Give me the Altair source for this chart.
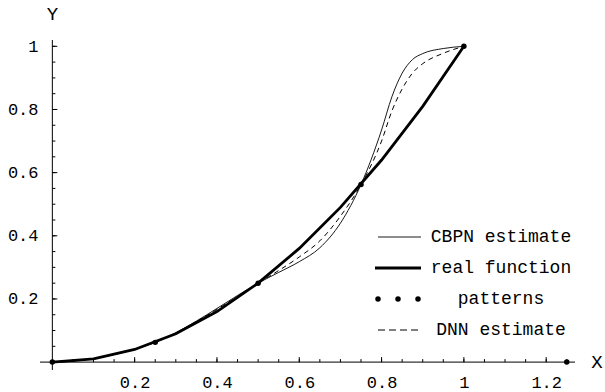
import altair as alt
import pandas as pd

# ---- data ----
real_x = [0.0, 0.1, 0.2, 0.3, 0.4, 0.5, 0.6, 0.7, 0.8, 0.9, 1.0]
real_y = [0.0, 0.01, 0.04, 0.09, 0.16, 0.25, 0.36, 0.49, 0.64, 0.81, 1.0]

est_x = [0.0, 0.05, 0.1, 0.15, 0.2, 0.25, 0.3, 0.35, 0.4, 0.45, 0.5, 0.55, 0.6,
         0.65, 0.7, 0.75, 0.8, 0.825, 0.85, 0.875, 0.9, 0.95, 1.0]
cbpn_y = [0.0, 0.003, 0.011, 0.024, 0.041, 0.0625, 0.093, 0.13, 0.17, 0.211, 0.25,
          0.284, 0.318, 0.362, 0.44, 0.5625, 0.735, 0.84, 0.915, 0.958, 0.977, 0.993, 1.0]
dnn_y = [0.0, 0.003, 0.011, 0.024, 0.041, 0.0625, 0.092, 0.128, 0.167, 0.208, 0.25,
         0.29, 0.333, 0.384, 0.462, 0.5625, 0.70, 0.795, 0.865, 0.915, 0.945, 0.978, 1.0]

pattern_x = [0.0, 0.25, 0.5, 0.75, 1.0, 1.25]
pattern_y = [0.0, 0.0625, 0.25, 0.5625, 1.0, 0.0]

x_major = [0.2, 0.4, 0.6, 0.8, 1.0, 1.2]
y_major = [0.2, 0.4, 0.6, 0.8, 1.0]
x_minor = [round(i * 0.05, 2) for i in range(1, 26)]
y_minor = [round(i * 0.05, 2) for i in range(1, 21)]

legend_labels = ["CBPN estimate", "real function", "patterns", "DNN estimate"]

FONT = "Liberation Mono"
X_DOM = [-0.03, 1.27]
Y_DOM = [-0.025, 1.02]

xs = alt.Scale(domain=X_DOM, nice=False, zero=False)
ys = alt.Scale(domain=Y_DOM, nice=False, zero=False)

real_df = pd.DataFrame({"x": real_x, "y": real_y})
cbpn_df = pd.DataFrame({"x": est_x, "y": cbpn_y})
dnn_df = pd.DataFrame({"x": est_x, "y": dnn_y})
pat_df = pd.DataFrame({"x": pattern_x, "y": pattern_y})
one = pd.DataFrame({"a": [0]})

X = alt.X("x:Q", scale=xs, axis=alt.Axis(values=x_major, format="~g", domain=False, ticks=False,
                                         grid=False, labelFont=FONT, labelFontSize=17,
                                         labelColor="black", labelPadding=4, title=None))
Y = alt.Y("y:Q", scale=ys, axis=alt.Axis(values=y_major, format="~g", domain=False, ticks=False,
                                         grid=False, labelFont=FONT, labelFontSize=17,
                                         labelColor="black", labelPadding=2, title=None))

base_axes = alt.Chart(real_df).mark_point(opacity=0).encode(x=X, y=Y)

# axis lines
xaxis_line = alt.Chart(one).mark_rule(color="black", strokeWidth=1).encode(
    x=alt.datum(X_DOM[0], scale=xs), x2=alt.datum(X_DOM[1]), y=alt.datum(0, scale=ys))
yaxis_line = alt.Chart(one).mark_rule(color="black", strokeWidth=1).encode(
    y=alt.datum(Y_DOM[0], scale=ys), y2=alt.datum(Y_DOM[1]), x=alt.datum(0, scale=xs))

# ticks
xminor_df = pd.DataFrame({"x": x_minor})
yminor_df = pd.DataFrame({"y": y_minor})
xmajor_df = pd.DataFrame({"x": x_major})
ymajor_df = pd.DataFrame({"y": y_major})
xt_minor = alt.Chart(xminor_df).mark_rule(color="black", y2Offset=-3).encode(
    x=alt.X("x:Q", scale=xs), y=alt.datum(0, scale=ys), y2=alt.datum(0))
xt_major = alt.Chart(xmajor_df).mark_rule(color="black", y2Offset=-5).encode(
    x=alt.X("x:Q", scale=xs), y=alt.datum(0, scale=ys), y2=alt.datum(0))
yt_minor = alt.Chart(yminor_df).mark_rule(color="black", x2Offset=3).encode(
    y=alt.Y("y:Q", scale=ys), x=alt.datum(0, scale=xs), x2=alt.datum(0))
yt_major = alt.Chart(ymajor_df).mark_rule(color="black", x2Offset=5).encode(
    y=alt.Y("y:Q", scale=ys), x=alt.datum(0, scale=xs), x2=alt.datum(0))

xlab = alt.Chart(one).mark_text(text="X", font=FONT, fontSize=19, color="black",
                                dx=22, baseline="middle").encode(
    x=alt.datum(X_DOM[1], scale=xs), y=alt.datum(0, scale=ys))
ylab = alt.Chart(one).mark_text(text="Y", font=FONT, fontSize=19, color="black",
                                dy=-26, baseline="middle").encode(
    x=alt.datum(0, scale=xs), y=alt.datum(Y_DOM[1], scale=ys))

# curves
cbpn = alt.Chart(cbpn_df).mark_line(color="black", strokeWidth=0.9, interpolate="monotone").encode(
    x=alt.X("x:Q", scale=xs), y=alt.Y("y:Q", scale=ys))
dnn = alt.Chart(dnn_df).mark_line(color="black", strokeWidth=1, strokeDash=[5, 4],
                                  interpolate="monotone").encode(
    x=alt.X("x:Q", scale=xs), y=alt.Y("y:Q", scale=ys))
real = alt.Chart(real_df).mark_line(color="black", strokeWidth=2.8).encode(
    x=alt.X("x:Q", scale=xs), y=alt.Y("y:Q", scale=ys))
pats = alt.Chart(pat_df).mark_circle(color="black", opacity=1, size=30).encode(
    x=alt.X("x:Q", scale=xs), y=alt.Y("y:Q", scale=ys))

# legend (pixel layout within plot area: plot origin at (40,40))
OX, OY = 40, 40
LEG_TX = 501 - OX
LEG_Y = [237 - OY, 268 - OY, 299 - OY, 330 - OY]
leg = []
for lab, ly in zip(legend_labels, LEG_Y):
    leg.append(alt.Chart(one).mark_text(text=lab, font=FONT, fontSize=18, color="black",
                                        align="center", baseline="middle").encode(
        x=alt.value(LEG_TX), y=alt.value(ly)))
leg.append(alt.Chart(one).mark_rule(color="black", strokeWidth=0.9).encode(
    x=alt.value(378 - OX), x2=alt.value(421 - OX), y=alt.value(LEG_Y[0])))
leg.append(alt.Chart(one).mark_rule(color="black", strokeWidth=2.8).encode(
    x=alt.value(375 - OX), x2=alt.value(421 - OX), y=alt.value(LEG_Y[1])))
for dxp in [378, 398, 418]:
    leg.append(alt.Chart(one).mark_circle(color="black", opacity=1, size=30).encode(
        x=alt.value(dxp - OX), y=alt.value(LEG_Y[2])))
leg.append(alt.Chart(one).mark_rule(color="black", strokeWidth=1, strokeDash=[7, 4]).encode(
    x=alt.value(378 - OX), x2=alt.value(418 - OX), y=alt.value(LEG_Y[3])))

chart = alt.layer(
    base_axes, xaxis_line, yaxis_line, xt_minor, xt_major, yt_minor, yt_major,
    cbpn, dnn, real, pats, xlab, ylab, *leg
).properties(
    width=535, height=330,
    autosize=alt.AutoSizeParams(type="none"),
    padding={"left": 40, "top": 40, "right": 30, "bottom": 22},
    background="white",
).configure_view(stroke=None)

chart.save("out.html", embed_options={"renderer": "svg", "actions": False})
